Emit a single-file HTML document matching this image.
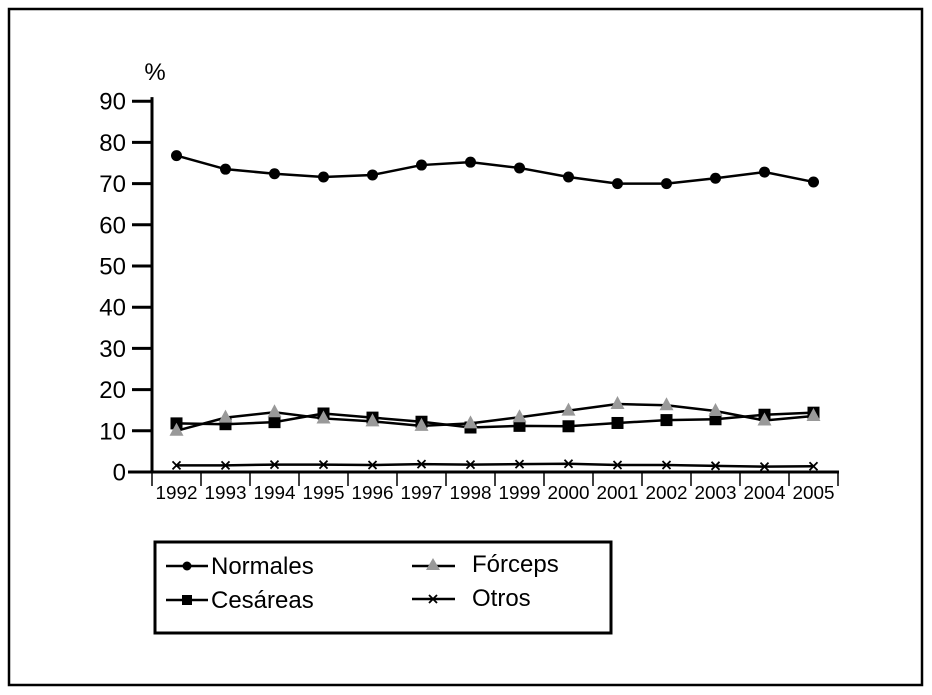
<!DOCTYPE html>
<html><head><meta charset="utf-8"><style>
body{margin:0;background:#fff;}
svg{display:block;font-family:"Liberation Sans",Arial,sans-serif;}
</style></head><body>
<svg id="chart" width="932" height="695" viewBox="0 0 932 695">
<rect x="9" y="9" width="913" height="676" fill="none" stroke="#000" stroke-width="2.5"/>
<g id="axes"></g>
<g id="series"></g>
<g>
<rect x="155" y="542" width="456" height="91" fill="none" stroke="#000" stroke-width="3"/>
<g>
<line x1="166" y1="566" x2="208" y2="566" stroke="#000" stroke-width="2.5"/><circle cx="187" cy="566" r="4.5"/>
<text x="211" y="574" font-size="24">Normales</text></g>
<g>
<line x1="166" y1="600" x2="208" y2="600" stroke="#000" stroke-width="2.5"/><rect x="182" y="595" width="10" height="10"/>
<text x="211" y="608" font-size="24">Cesáreas</text></g>
<g>
<line x1="412" y1="566" x2="455" y2="566" stroke="#000" stroke-width="2.5"/><polygon points="433,558 440,570 426,570" fill="#999"/>
<text x="472" y="572" font-size="24">Fórceps</text></g>
<g>
<line x1="412" y1="599" x2="455" y2="599" stroke="#000" stroke-width="2.5"/><path d="M429,595L437,603M437,595L429,603" stroke="#000" stroke-width="1.8"/>
<text x="472" y="606" font-size="24">Otros</text></g>
</g>
</svg>
<script>
const years=["1992","1993","1994","1995","1996","1997","1998","1999","2000","2001","2002","2003","2004","2005"];
const normales=[76.8,73.5,72.4,71.6,72.1,74.5,75.2,73.8,71.6,70,70,71.3,72.8,70.4];
const cesareas=[11.8,11.6,12.1,14.2,13.2,12.2,10.8,11.2,11.1,11.9,12.6,12.8,13.9,14.4];
const forceps=[10,13.2,14.5,13,12.3,11.2,11.8,13.3,14.9,16.5,16.2,14.8,12.5,13.6];
const otros=[1.6,1.6,1.8,1.8,1.7,1.9,1.8,1.9,2,1.7,1.7,1.5,1.3,1.4];
const yTicks=[0,10,20,30,40,50,60,70,80,90];
const NS="http://www.w3.org/2000/svg";
const x0=152,band=49,y0=472,ppu=4.12;
function xs(i){return x0+band*(i+0.5);}
function ys(v){return y0-v*ppu;}
function mk(tag,attrs,parent){const e=document.createElementNS(NS,tag);for(const k in attrs)e.setAttribute(k,attrs[k]);parent.appendChild(e);return e;}
const ax=document.getElementById('axes'),sr=document.getElementById('series');
let e=mk('line',{x1:x0,y1:ys(91),x2:x0,y2:y0,stroke:'#000','stroke-width':3},ax);


e=mk('line',{x1:128,y1:y0,x2:x0+band*14+1,y2:y0,stroke:'#000','stroke-width':3},ax);


e=mk('text',{x:155,y:80,'font-size':24,'text-anchor':'middle'},ax);e.textContent='%';


yTicks.forEach(v=>{
 const t=mk('line',{x1:132,y1:ys(v),x2:x0,y2:ys(v),stroke:'#000','stroke-width':3},ax);
 
 
 const l=mk('text',{x:126,y:ys(v)+8.5,'font-size':24,'text-anchor':'end'},ax);l.textContent=v;
 
 
});
for(let i=0;i<=years.length;i++){
 const t=mk('line',{x1:x0+band*i,y1:y0,x2:x0+band*i,y2:y0+14,stroke:'#000','stroke-width':1.5},ax);
 
 
}
years.forEach((y,i)=>{
 const l=mk('text',{x:xs(i),y:y0+27,'font-size':18,'text-anchor':'middle',textLength:42,lengthAdjust:'spacingAndGlyphs'},ax);l.textContent=y;
 
 
});
function line(data,name){
 const p=mk('polyline',{points:data.map((v,i)=>xs(i)+','+ys(v)).join(' '),fill:'none',stroke:'#000','stroke-width':2.5},sr);
 
 
}
line(otros,'otros');line(cesareas,'cesareas');line(forceps,'forceps');line(normales,'normales');
normales.forEach((v,i)=>{const m=mk('circle',{cx:xs(i),cy:ys(v),r:5.5},sr);
 
 });
cesareas.forEach((v,i)=>{const m=mk('rect',{x:xs(i)-6,y:ys(v)-6,width:12,height:12},sr);
 
 });
forceps.forEach((v,i)=>{const x=xs(i),y=ys(v);const m=mk('polygon',{points:`${x},${y-8} ${x+7},${y+5} ${x-7},${y+5}`,fill:'#999'},sr);
 
 });
otros.forEach((v,i)=>{const x=xs(i),y=ys(v);const m=mk('path',{d:`M${x-4},${y-4}L${x+4},${y+4}M${x+4},${y-4}L${x-4},${y+4}`,stroke:'#000','stroke-width':1.8},sr);
 
 });
</script>
</body></html>
